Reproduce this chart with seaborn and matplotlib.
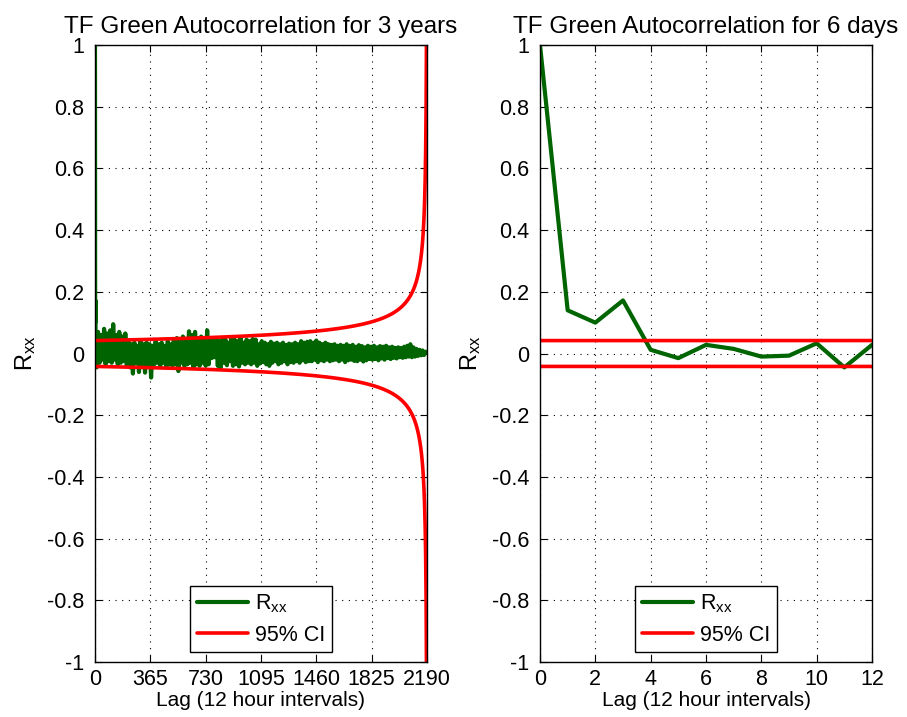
import numpy as np
import pandas as pd
import matplotlib
matplotlib.use("Agg")
import matplotlib.pyplot as plt
import seaborn as sns

# Sample autocorrelation of the TF Green series, first 13 lags (12-hour steps)
short_lags = list(range(13))
short_rxx = [1.0, 0.14, 0.10, 0.172, 0.012, -0.015, 0.028, 0.015, -0.01, -0.007,
             0.033, -0.045, 0.028]

# Longer-range autocorrelation, sampled every 10 lags from lag 20 to 2180, then lag 2189
long_lags = list(range(20, 2181, 10)) + [2189]
long_rxx = [
    0.07, -0.03, 0.06, -0.02, 0.08, -0.035, 0.065, -0.025, 0.075, -0.03,
    0.095, -0.02, 0.06, -0.035, 0.07, -0.03, 0.055, -0.025, 0.065, -0.04,
    0.04, -0.045, 0.03, -0.065, 0.035, -0.03, 0.025, -0.06, 0.04, -0.035,
    0.03, -0.062, 0.035, -0.04, 0.03, -0.078, 0.025, -0.035, 0.04, -0.03,
    0.03, -0.04, 0.035, -0.03, 0.025, -0.045, 0.04, -0.035, 0.03, -0.04,
    0.045, -0.035, 0.05, -0.057, 0.04, -0.03, 0.055, -0.04, 0.045, -0.035,
    0.072, -0.03, 0.06, -0.045, 0.07, -0.035, 0.05, -0.04, 0.055, -0.03,
    0.045, -0.04, 0.075, -0.035, 0.05, -0.015, 0.045, -0.012, 0.05, -0.04,
    0.04, -0.045, 0.05, -0.03, 0.045, -0.038, 0.035, -0.025, 0.05, -0.04,
    0.045, -0.035, 0.04, -0.042, 0.05, -0.03, 0.035, -0.035, 0.045, -0.03,
    0.04, -0.035, 0.047, -0.03, 0.045, -0.04, 0.03, -0.032, 0.04, -0.028,
    0.035, -0.035, 0.03, -0.04, 0.038, -0.03, 0.032, -0.025, 0.035, -0.035,
    0.03, -0.03, 0.035, -0.025, 0.028, -0.035, 0.032, -0.028, 0.03, -0.03,
    0.035, -0.025, 0.03, -0.03, 0.04, -0.022, 0.035, -0.028, 0.038, -0.025,
    0.04, -0.025, 0.035, -0.02, 0.042, -0.028, 0.035, -0.022, 0.03, -0.025,
    0.035, -0.02, 0.03, -0.025, 0.028, -0.022, 0.03, -0.02, 0.025, -0.025,
    0.028, -0.02, 0.025, -0.028, 0.03, -0.022, 0.025, -0.02, 0.028, -0.024,
    0.022, -0.025, 0.027, -0.02, 0.024, -0.026, 0.02, -0.022, 0.025, -0.018,
    0.022, -0.02, 0.025, -0.018, 0.02, -0.022, 0.024, -0.016, 0.022, -0.02,
    0.025, -0.015, 0.02, -0.018, 0.022, -0.014, 0.018, -0.016, 0.02, -0.012,
    0.018, -0.014, 0.022, -0.012, 0.025, -0.01, 0.03, -0.012, 0.02, -0.01,
    0.015, -0.008, 0.012, -0.006, 0.01, -0.005, 0.006,
    0.002,
]

# 95% confidence bound for an autocorrelation estimated from n_obs samples
n_obs = 2190
z_95 = 1.96

x_ticks_long = [0, 365, 730, 1095, 1460, 1825, 2190]
x_ticks_short = [0, 2, 4, 6, 8, 10, 12]
y_ticks = [-1, -0.8, -0.6, -0.4, -0.2, 0, 0.2, 0.4, 0.6, 0.8, 1]

titles = ["TF Green Autocorrelation for 3 years", "TF Green Autocorrelation for 6 days"]
x_label = "Lag (12 hour intervals)"
y_label = r"$\mathregular{R_{xx}}$"
legend_labels = [r"$\mathregular{R_{xx}}$", "95% CI"]

green = "#006400"
red = "#ff0000"

sns.set_theme(style="ticks")
plt.rcParams["font.family"] = ["Liberation Sans", "DejaVu Sans"]
plt.rcParams["axes.unicode_minus"] = False
plt.rcParams["xtick.direction"] = "in"
plt.rcParams["ytick.direction"] = "in"
for key in ["text.color", "axes.labelcolor", "xtick.color", "ytick.color",
            "xtick.labelcolor", "ytick.labelcolor", "axes.edgecolor"]:
    plt.rcParams[key] = "black"

fig = plt.figure(figsize=(9.07, 7.17), dpi=100)
ax_long = fig.add_axes([95 / 907, 1 - 662 / 717, 332 / 907, 617 / 717])
ax_short = fig.add_axes([540 / 907, 1 - 662 / 717, 332 / 907, 617 / 717])

lags_all = np.array(short_lags + long_lags)
rxx_all = np.array(short_rxx + long_rxx)
df_long = pd.DataFrame({"lag": lags_all, "rxx": rxx_all})
df_short = pd.DataFrame({"lag": short_lags, "rxx": short_rxx})

ci_lags_long = np.arange(0, n_obs)
ci_lags_short = np.array(short_lags)


def ci_frame(lags):
    bound = z_95 / np.sqrt(n_obs - lags)
    return pd.DataFrame({"lag": lags, "upper": bound, "lower": -bound})


def style_axes(ax, xticks, xlim, title):
    ax.set_xlim(*xlim)
    ax.set_ylim(-1, 1)
    ax.set_xticks(xticks)
    ax.set_yticks(y_ticks)
    ax.set_xticklabels([f"{t:g}" for t in xticks])
    ax.set_yticklabels([f"{t:g}" for t in y_ticks])
    ax.tick_params(axis="both", which="both", direction="in", top=True, right=True,
                   labelsize=15.5, length=5, width=0.8, color="black",
                   labelcolor="black")
    ax.tick_params(axis="y", pad=8)
    ax.tick_params(axis="x", pad=5)
    ax.grid(True, linestyle=(0, (1, 5)), color="black", linewidth=0.8)
    for side in ax.spines.values():
        side.set_color("black")
        side.set_linewidth(1.0)
    ax.set_title(title, fontsize=17.5, pad=9, color="black")
    ax.set_xlabel(x_label, fontsize=15, labelpad=1, color="black")
    ax.set_ylabel(y_label, fontsize=17, labelpad=6, color="black")


for ax, df, ci_lags, xticks, xlim, title in [
    (ax_long, df_long, ci_lags_long, x_ticks_long, (0, 2190), titles[0]),
    (ax_short, df_short, ci_lags_short, x_ticks_short, (0, 12), titles[1]),
]:
    ci = ci_frame(ci_lags)
    sns.lineplot(data=df, x="lag", y="rxx", ax=ax, color=green, linewidth=3.0,
                 estimator=None, sort=False, label=legend_labels[0])
    sns.lineplot(data=ci, x="lag", y="upper", ax=ax, color=red, linewidth=2.6,
                 estimator=None, sort=False, label=legend_labels[1])
    sns.lineplot(data=ci, x="lag", y="lower", ax=ax, color=red, linewidth=2.6,
                 estimator=None, sort=False)
    style_axes(ax, xticks, xlim, title)
    leg = ax.legend(loc="lower center", bbox_to_anchor=(0.5, 0.016), fontsize=15.5,
                    frameon=True, fancybox=False, edgecolor="black", framealpha=1,
                    handlelength=2.4, borderpad=0.3, labelspacing=0.45,
                    handletextpad=0.3, borderaxespad=0)
    leg.get_frame().set_linewidth(1.0)
    for txt in leg.get_texts():
        txt.set_color("black")

fig.savefig("out.png", dpi=100)
